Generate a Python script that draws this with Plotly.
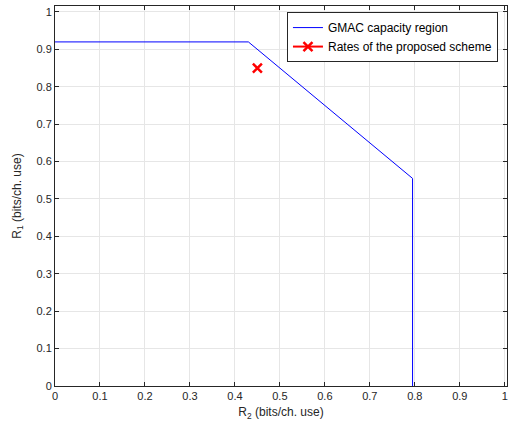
import plotly.graph_objects as go

# GMAC capacity region boundary
region_r2 = [0.0, 0.43, 0.795, 0.795]
region_r1 = [0.92, 0.92, 0.555, 0.0]
# Proposed scheme rates
scheme_r2 = [0.45]
scheme_r1 = [0.85]

tick_vals = [0, 0.1, 0.2, 0.3, 0.4, 0.5, 0.6, 0.7, 0.8, 0.9, 1]
tick_text = ["0", "0.1", "0.2", "0.3", "0.4", "0.5", "0.6", "0.7", "0.8", "0.9", "1"]

FONT = "Liberation Sans, Arial, sans-serif"

fig = go.Figure()
fig.add_trace(go.Scatter(x=region_r2, y=region_r1, mode="lines",
                         line=dict(color="#0000ff", width=1),
                         name="GMAC capacity region"))
fig.add_trace(go.Scatter(x=scheme_r2, y=scheme_r1, mode="lines+markers",
                         line=dict(color="#ff0000", width=2),
                         marker=dict(symbol="x-thin", size=9, color="#ff0000",
                                     line=dict(color="#ff0000", width=2.5)),
                         name="Rates of the proposed scheme"))

axis_common = dict(
    showgrid=True, gridcolor="#e6e6e6", gridwidth=1,
    showline=True, linecolor="#262626", linewidth=1, mirror="ticks",
    ticks="inside", ticklen=4, tickcolor="#262626",
    zeroline=False, tickvals=tick_vals, ticktext=tick_text,
    tickfont=dict(family=FONT, size=11, color="#262626"),
)

fig.update_xaxes(range=[0, 1.005],
                 title=dict(text="R<sub>2</sub> (bits/ch. use)", standoff=6,
                            font=dict(family=FONT, size=12, color="#262626")),
                 **axis_common)
fig.update_yaxes(range=[0, 1.016],
                 title=dict(text="R<sub>1</sub> (bits/ch. use)", standoff=12,
                            font=dict(family=FONT, size=12, color="#262626")),
                 **axis_common)

fig.update_layout(
    width=513, height=425,
    margin=dict(l=55, r=6, t=6, b=39),
    plot_bgcolor="white", paper_bgcolor="white",
    showlegend=True,
    legend=dict(x=0.98, y=0.984, xanchor="right", yanchor="top",
                xref="paper", yref="paper",
                bgcolor="white", bordercolor="#262626", borderwidth=1,
                font=dict(family=FONT, size=12, color="black"),
                tracegroupgap=0, itemwidth=30),
)

fig.write_html("out.html")
